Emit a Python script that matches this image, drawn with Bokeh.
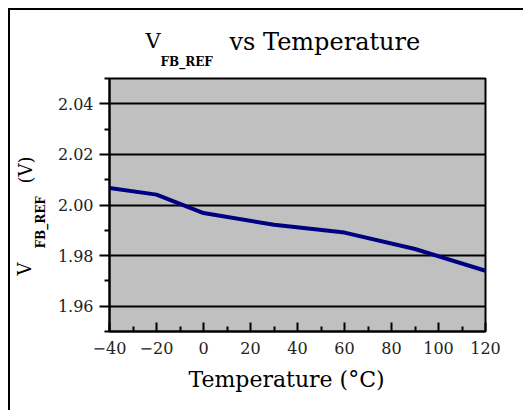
from bokeh.plotting import figure
from bokeh.models import FixedTicker, NumeralTickFormatter, Range1d, Title
from bokeh.embed import file_html
from bokeh.resources import INLINE

# data
temperature = [-40, -20, 0, 30, 60, 90, 120]
vfb_ref = [2.0067, 2.0041, 1.9968, 1.9922, 1.9891, 1.9826, 1.9740]
x_ticks = [-40, -20, 0, 20, 40, 60, 80, 100, 120]
x_minor = [-30, -10, 10, 30, 50, 70, 90, 110]
y_ticks = [1.96, 1.98, 2.00, 2.02, 2.04]
y_minor = [1.95, 1.97, 1.99, 2.01, 2.03, 2.05]

SERIF = "DejaVu Serif"

p = figure(width=515, height=402, output_backend="svg", toolbar_location=None,
           x_range=Range1d(-40, 120), y_range=Range1d(1.95, 2.05),
           min_border_left=99, min_border_right=40, min_border_top=68,
           min_border_bottom=81)
p.styles = {"margin": "8px 0 0 8px", "border-left": "2px solid black",
            "border-top": "2px solid black"}
p.background_fill_color = "#C0C0C0"
p.border_fill_color = "white"
p.outline_line_color = "black"
p.outline_line_width = 2

p.line(temperature, vfb_ref, line_color="#000080", line_width=4)

p.xgrid.visible = False
p.ygrid.ticker = FixedTicker(ticks=y_ticks)
p.ygrid.grid_line_color = "black"
p.ygrid.grid_line_width = 2
p.ygrid.grid_line_alpha = 1.0

xa = p.xaxis[0]
xa.ticker = FixedTicker(ticks=x_ticks, minor_ticks=x_minor)
xa.axis_line_width = 2
xa.major_tick_line_width = 2
xa.minor_tick_line_width = 2
xa.major_tick_in = 9
xa.major_tick_out = 0
xa.minor_tick_in = 5
xa.minor_tick_out = 0
xa.major_label_standoff = 10
xa.major_label_text_font = SERIF
xa.major_label_text_font_size = "16px"
xa.major_label_text_color = "#222222"

ya = p.yaxis[0]
ya.ticker = FixedTicker(ticks=y_ticks, minor_ticks=y_minor)
ya.formatter = NumeralTickFormatter(format="0.00")
ya.axis_line_width = 2
ya.major_tick_line_width = 2
ya.minor_tick_line_width = 2
ya.major_tick_in = 0
ya.major_tick_out = 10
ya.minor_tick_in = 0
ya.minor_tick_out = 5
ya.major_label_standoff = 6
ya.major_label_text_font = SERIF
ya.major_label_text_font_size = "16px"
ya.major_label_text_color = "#222222"


def ttl(text, place, size, offset, standoff, bold=False):
    t = Title(text=text, align="left", offset=offset, standoff=standoff,
              text_font=SERIF, text_font_size=size,
              text_font_style="bold" if bold else "normal",
              text_color="black", text_baseline="alphabetic")
    p.add_layout(t, place)


# chart title: V_FB_REF vs Temperature
ttl("FB_REF", "above", "12px", 51, 19, bold=True)
ttl("V", "above", "21px", 36, -19)
ttl("vs Temperature", "above", "24px", 120, -38)

# y axis title (rotated)
ttl("FB_REF", "left", "12px", 83, 13, bold=True)
ttl("V", "left", "18px", 56, -19)
ttl("(V)", "left", "18px", 148, -29)

# x axis title
ttl("Temperature (\u00b0C)", "below", "22px", 79, 17)

open("out.html", "w").write(file_html(p, INLINE))
